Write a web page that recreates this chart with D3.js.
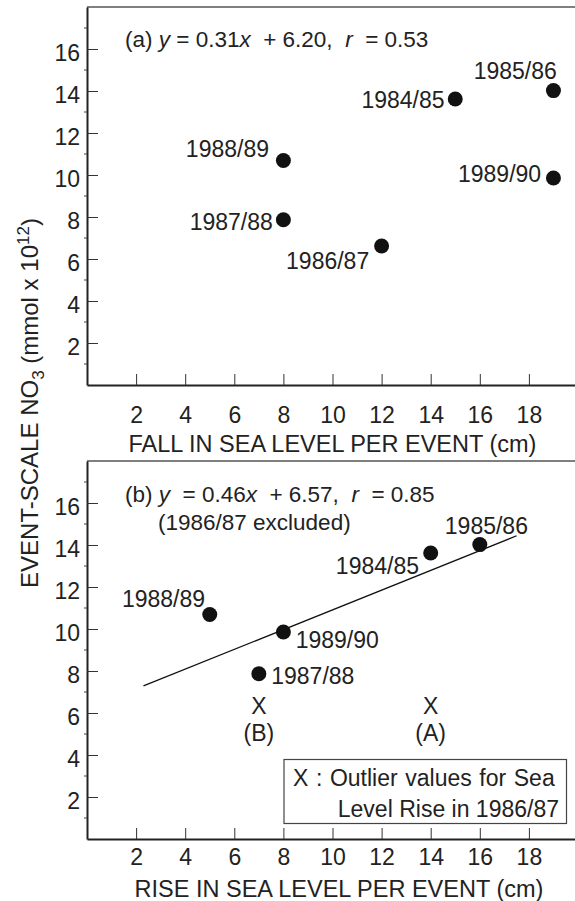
<!DOCTYPE html>
<html>
<head>
<meta charset="utf-8">
<script src="https://cdn.jsdelivr.net/npm/d3@7"></script>
<style>
  html, body { margin: 0; padding: 0; background: #fff; }
  svg { display: block; }
  text { font-family: "Liberation Sans", Arial, Helvetica, sans-serif; fill: #222; }
</style>
</head>
<body>
<svg id="chart" width="575" height="901"></svg>
<script>
// ---------- data ----------
const years   = ["1984/85", "1985/86", "1986/87", "1987/88", "1988/89", "1989/90"];
const no3     = [13.62, 14.02, 6.62, 7.87, 10.69, 9.86];     // event-scale NO3 (mmol x 10^12)
const fallCm  = [15, 19, 12, 8, 8, 19];                      // fall in sea level per event (cm)
const riseCm  = [14, 16, null, 7, 5, 8];                     // rise in sea level per event (cm), 1986/87 excluded
const outlierRise   = [14, 7];                               // 1986/87 outlier rise values
const outlierLabels = ["(A)", "(B)"];
const outlierNo3    = 6.62;
const fitX = [2.3, 17.5];                                    // fitted line ends (panel b)
const fitY = [7.29, 14.44];
const xTicks = [2, 4, 6, 8, 10, 12, 14, 16, 18];
const yTicks = [2, 4, 6, 8, 10, 12, 14, 16];

// ---------- label layout (offsets from dot centre) ----------
const labA = {
  "1984/85": [-10.7, 9.3, "end"],
  "1985/86": [3.4, -12, "end"],
  "1986/87": [-12.4, 23, "end"],
  "1987/88": [-10.6, 10, "end"],
  "1988/89": [-14.4, -4, "end"],
  "1989/90": [-12.3, 4.4, "end"]
};
const labB = {
  "1984/85": [-11.7, 21.3, "end"],
  "1985/86": [-35, -11, "start"],
  "1987/88": [12.4, 10, "start"],
  "1988/89": [-4.7, -7.3, "end"],
  "1989/90": [12.3, 16, "start"]
};

const svg = d3.select("#chart");
const FS = 23;
const x = d3.scaleLinear().domain([0, 20]).range([87, 578]);
const yA = d3.scaleLinear().domain([0, 18]).range([385, 7]);
const yB = d3.scaleLinear().domain([0, 18]).range([839, 461]);

function panel(y, xLabelBase, xTitle, xTitleX, xTitleBase) {
  const g = svg.append("g");
  // top border
  g.append("line").attr("x1", x(0)).attr("x2", x(20)).attr("y1", y(18)).attr("y2", y(18))
    .attr("stroke", "#555").attr("stroke-width", 1.6);
  // y axis
  const ya = g.append("g").attr("transform", `translate(${x(0)},0)`)
    .call(d3.axisLeft(y).tickValues(yTicks).tickSize(-11).tickSizeOuter(0).tickPadding(7).tickFormat(d3.format("d")));
  ya.select(".domain").attr("stroke", "#222").attr("stroke-width", 2);
  ya.selectAll(".tick line").attr("stroke", "#333").attr("stroke-width", 1);
  ya.selectAll(".tick text").attr("dy", null).attr("y", 11).style("font-size", FS + "px")
    .style("font-family", "'Liberation Sans', Arial, sans-serif").attr("fill", "#222");
  // minor ticks on y axis (outside)
  g.selectAll(".minor").data(d3.range(1, 18, 1).filter(v => v % 2 === 1)).join("line")
    .attr("x1", x(0) - 3).attr("x2", x(0)).attr("y1", d => y(d)).attr("y2", d => y(d))
    .attr("stroke", "#444").attr("stroke-width", 1);
  // x axis
  const xa = g.append("g").attr("transform", `translate(0,${y(0)})`)
    .call(d3.axisBottom(x).tickValues(xTicks).tickSize(-11).tickSizeOuter(0).tickFormat(d3.format("d")));
  xa.select(".domain").attr("stroke", "#222").attr("stroke-width", 2);
  xa.selectAll(".tick line").attr("stroke", "#333").attr("stroke-width", 1);
  xa.selectAll(".tick text").attr("dy", null).attr("y", xLabelBase).style("font-size", FS + "px")
    .style("font-family", "'Liberation Sans', Arial, sans-serif").attr("fill", "#222");
  // x title
  g.append("text").attr("x", xTitleX).attr("y", xTitleBase).attr("text-anchor", "middle")
    .style("font-size", "23.5px").text(xTitle);
  return g;
}

const gA = panel(yA, 38, "FALL IN SEA LEVEL PER EVENT (cm)", 332.5, 451.5);
const gB = panel(yB, 26, "RISE IN SEA LEVEL PER EVENT (cm)", 339, 896.5);

// y axis title (shared)
const yt = svg.append("text").attr("transform", "translate(38,403) rotate(-90)")
  .attr("text-anchor", "middle").style("font-size", "24px");
yt.append("tspan").text("EVENT-SCALE NO");
yt.append("tspan").attr("dy", 6).style("font-size", "17px").text("3");
yt.append("tspan").attr("dy", -6).text(" (mmol x 10");
yt.append("tspan").attr("dy", -9).style("font-size", "17px").text("12");
yt.append("tspan").attr("dy", 9).text(")");

// equations
function eq(g, xPos, yPos, parts) {
  const t = g.append("text").attr("x", xPos).attr("y", yPos).style("font-size", "22.5px")
    .attr("xml:space", "preserve").style("white-space", "pre");
  parts.forEach(p => t.append("tspan").style("font-style", p[1] ? "italic" : "normal").text(p[0]));
}
eq(gA, 125, 46.5, [["(a) ", 0], ["y", 1], [" = 0.31", 0], ["x", 1], ["  + 6.20,  ", 0], ["r", 1], ["  = 0.53", 0]]);
eq(gB, 125, 501.5, [["(b) ", 0], ["y", 1], ["  = 0.46", 0], ["x", 1], ["  + 6.57,  ", 0], ["r", 1], ["  = 0.85", 0]]);
gB.append("text").attr("x", 158).attr("y", 530).style("font-size", "22.5px").text("(1986/87 excluded)");

// panel (a) points
const ptsA = years.map((yr, i) => ({ yr, xv: fallCm[i], yv: no3[i] }));
gA.selectAll("circle.pt").data(ptsA).join("circle").attr("class", "pt")
  .attr("cx", d => x(d.xv)).attr("cy", d => yA(d.yv)).attr("r", 7.5).attr("fill", "#111");
gA.selectAll("text.lab").data(ptsA).join("text").attr("class", "lab")
  .attr("x", d => x(d.xv) + labA[d.yr][0]).attr("y", d => yA(d.yv) + labA[d.yr][1])
  .attr("text-anchor", d => labA[d.yr][2]).style("font-size", FS + "px").text(d => d.yr);

// panel (b) fit line
gB.append("line").attr("x1", x(fitX[0])).attr("y1", yB(fitY[0])).attr("x2", x(fitX[1])).attr("y2", yB(fitY[1]))
  .attr("stroke", "#111").attr("stroke-width", 1.3);

// panel (b) points
const ptsB = years.map((yr, i) => ({ yr, xv: riseCm[i], yv: no3[i] })).filter(d => d.xv !== null);
gB.selectAll("circle.pt").data(ptsB).join("circle").attr("class", "pt")
  .attr("cx", d => x(d.xv)).attr("cy", d => yB(d.yv)).attr("r", 7.5).attr("fill", "#111");
gB.selectAll("text.lab").data(ptsB).join("text").attr("class", "lab")
  .attr("x", d => x(d.xv) + labB[d.yr][0]).attr("y", d => yB(d.yv) + labB[d.yr][1])
  .attr("text-anchor", d => labB[d.yr][2]).style("font-size", FS + "px").text(d => d.yr);

// outliers
outlierRise.forEach((v, i) => {
  gB.append("text").attr("x", x(v)).attr("y", yB(outlierNo3) + 14).attr("text-anchor", "middle")
    .style("font-size", FS + "px").text("X");
  gB.append("text").attr("x", x(v)).attr("y", yB(outlierNo3) + 41).attr("text-anchor", "middle")
    .style("font-size", FS + "px").text(outlierLabels[i]);
});

// legend box
gB.append("rect").attr("x", 284).attr("y", 759.5).attr("width", 282.5).attr("height", 64)
  .attr("fill", "none").attr("stroke", "#444").attr("stroke-width", 1.2);
gB.append("text").attr("x", 293).attr("y", 786).attr("text-anchor", "start").style("font-size", FS + "px")
  .style("word-spacing", "1.2px").text("X : Outlier values for Sea");
gB.append("text").attr("x", 559).attr("y", 816.5).attr("text-anchor", "end").style("font-size", FS + "px")
  .text("Level Rise in 1986/87");
</script>
</body>
</html>
